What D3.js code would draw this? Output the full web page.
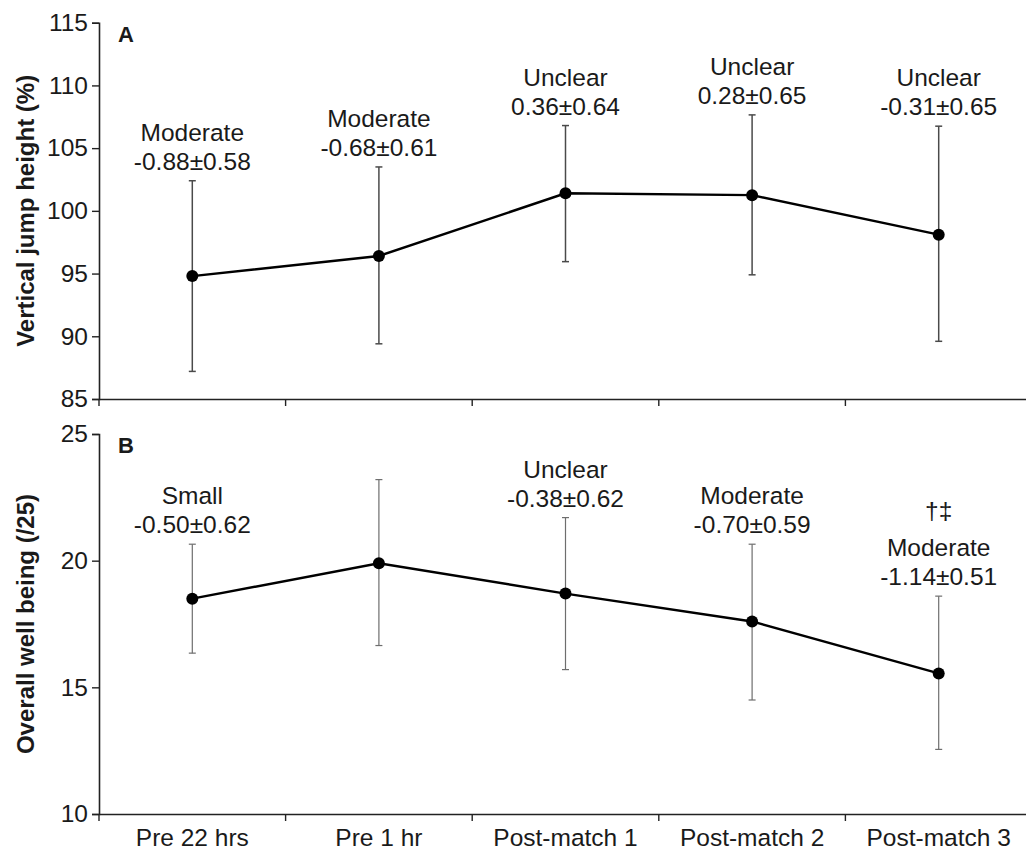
<!DOCTYPE html>
<html>
<head>
<meta charset="utf-8">
<script src="https://cdn.jsdelivr.net/npm/d3@7"></script>
<style>
  html, body { margin: 0; padding: 0; background: #fff; }
  text { font-family: "Liberation Sans", Arial, sans-serif; fill: #1a1a1a; }
</style>
</head>
<body>
<svg id="chart" width="1026" height="856"></svg>
<script>
// ---------- DATA ----------
const categories = ["Pre 22 hrs", "Pre 1 hr", "Post-match 1", "Post-match 2", "Post-match 3"];

// Panel A: vertical jump height (%)
const jumpMean  = [94.8, 96.4, 101.4, 101.25, 98.1];
const jumpUpper = [102.4, 103.5, 106.8, 107.65, 106.75];
const jumpLower = [87.2, 89.4, 95.95, 94.9, 89.6];
const jumpEffect = ["Moderate", "Moderate", "Unclear", "Unclear", "Unclear"];
const jumpES     = ["-0.88±0.58", "-0.68±0.61", "0.36±0.64", "0.28±0.65", "-0.31±0.65"];
const jumpTicks  = [85, 90, 95, 100, 105, 110, 115];

// Panel B: overall well being (/25)
const wellMean  = [18.5, 19.9, 18.7, 17.6, 15.55];
const wellUpper = [20.65, 23.2, 21.7, 20.65, 18.6];
const wellLower = [16.35, 16.65, 15.7, 14.5, 12.55];
const wellEffect = ["Small", "", "Unclear", "Moderate", "Moderate"];
const wellES     = ["-0.50±0.62", "", "-0.38±0.62", "-0.70±0.59", "-1.14±0.51"];
const wellSymbol = ["", "", "", "", "†‡"];
const wellTicks  = [10, 15, 20, 25];

// ---------- LAYOUT ----------
const svg = d3.select("#chart");
const FS = 24.5;
const x = d3.scaleBand().domain(categories).range([99, 1032]).padding(0);
const cx = d => x(d) + x.bandwidth() / 2;

const panels = [
  { letter: "A", title: "Vertical jump height (%)", domain: [85, 115], range: [399, 22.7],
    mean: jumpMean, upper: jumpUpper, lower: jumpLower, effect: jumpEffect, es: jumpES,
    symbol: ["", "", "", "", ""], ticks: jumpTicks, errColor: "#4a4a4a", errWidth: 1.5, xLabels: false },
  { letter: "B", title: "Overall well being (/25)", domain: [10, 25], range: [814, 434],
    mean: wellMean, upper: wellUpper, lower: wellLower, effect: wellEffect, es: wellES,
    symbol: wellSymbol, ticks: wellTicks, errColor: "#6e6e6e", errWidth: 1.2, xLabels: true }
];

panels.forEach(p => {
  const y = d3.scaleLinear().domain(p.domain).range(p.range);
  const g = svg.append("g");

  // y axis
  const yAxis = g.append("g").attr("transform", `translate(${x.range()[0]},0)`)
    .call(d3.axisLeft(y).tickValues(p.ticks).tickSize(7).tickPadding(4).tickFormat(d3.format("d")));
  yAxis.selectAll("text").style("font-size", FS + "px").attr("fill", "#1a1a1a");
  yAxis.select(".domain").attr("stroke", "#222").attr("stroke-width", 1.6);
  yAxis.selectAll(".tick line").attr("stroke", "#222").attr("stroke-width", 1.4);

  // x axis
  const y0 = y(p.domain[0]);
  const xAxis = g.append("g").attr("transform", `translate(0,${y0})`)
    .call(d3.axisBottom(x).tickSize(0).tickPadding(15).tickSizeOuter(0));
  xAxis.select(".domain").attr("stroke", "#222").attr("stroke-width", 1.6);
  xAxis.selectAll("text").style("font-size", FS + "px").attr("fill", "#1a1a1a");
  if (!p.xLabels) xAxis.selectAll("text").remove();
  // boundary ticks
  g.selectAll(".btick").data(categories).join("line")
    .attr("x1", d => x(d)).attr("x2", d => x(d))
    .attr("y1", y0).attr("y2", y0 + 7)
    .attr("stroke", "#222").attr("stroke-width", 1.4);

  // y title
  const midY = (p.range[0] + p.range[1]) / 2;
  g.append("text")
    .attr("transform", `translate(34,${midY}) rotate(-90)`)
    .attr("text-anchor", "middle")
    .style("font-size", "24px").style("font-weight", "bold")
    .text(p.title);

  // panel letter
  g.append("text")
    .attr("x", 118).attr("y", p.range[1] + 19)
    .style("font-size", "22px").style("font-weight", "bold")
    .text(p.letter);

  // error bars
  const eb = g.selectAll(".eb").data(categories).join("g");
  eb.append("line")
    .attr("x1", d => cx(d)).attr("x2", d => cx(d))
    .attr("y1", (d, i) => y(p.upper[i])).attr("y2", (d, i) => y(p.lower[i]))
    .attr("stroke", p.errColor).attr("stroke-width", p.errWidth);
  ["upper", "lower"].forEach(k => {
    eb.append("line")
      .attr("x1", d => cx(d) - 3.5).attr("x2", d => cx(d) + 3.5)
      .attr("y1", (d, i) => y(p[k][i])).attr("y2", (d, i) => y(p[k][i]))
      .attr("stroke", p.errColor).attr("stroke-width", p.errWidth);
  });

  // line
  const line = d3.line().x((d, i) => cx(categories[i])).y(d => y(d));
  g.append("path").datum(p.mean).attr("d", line)
    .attr("fill", "none").attr("stroke", "#000").attr("stroke-width", 2.4);

  // points
  g.selectAll(".pt").data(p.mean).join("circle")
    .attr("cx", (d, i) => cx(categories[i])).attr("cy", d => y(d))
    .attr("r", 6).attr("fill", "#000");

  // annotations
  categories.forEach((c, i) => {
    const top = y(p.upper[i]);
    if (p.es[i]) {
      g.append("text").attr("x", cx(c)).attr("y", top - 11)
        .attr("text-anchor", "middle").style("font-size", FS + "px").text(p.es[i]);
      g.append("text").attr("x", cx(c)).attr("y", top - 40)
        .attr("text-anchor", "middle").style("font-size", FS + "px").text(p.effect[i]);
    }
    if (p.symbol[i]) {
      g.append("text").attr("x", cx(c)).attr("y", top - 77)
        .attr("text-anchor", "middle").style("font-size", FS + "px").text(p.symbol[i]);
    }
  });
});
</script>
</body>
</html>
